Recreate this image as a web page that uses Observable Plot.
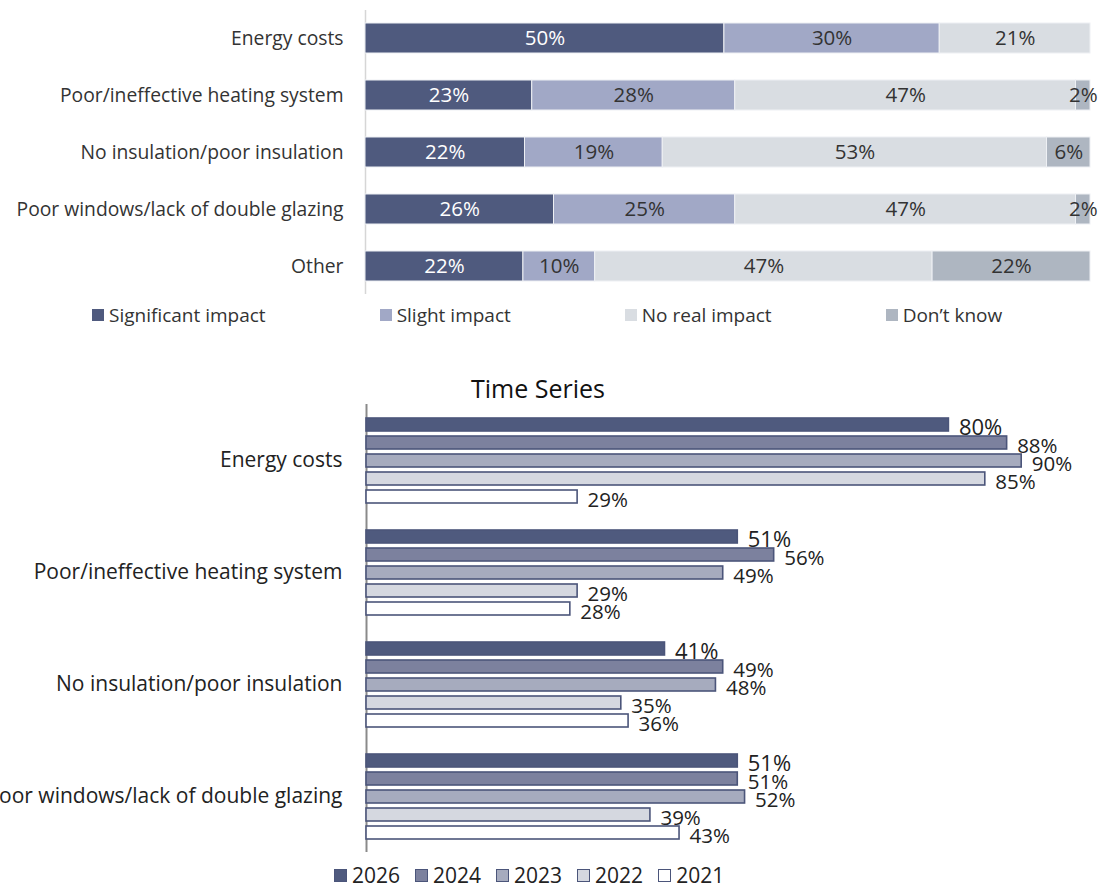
<!DOCTYPE html>
<html><head><meta charset="utf-8">
<script src="https://cdn.jsdelivr.net/npm/d3@7"></script>
<script src="https://cdn.jsdelivr.net/npm/@observablehq/plot@0.6"></script>
<style>
body{margin:0;width:1100px;height:884px;overflow:hidden;background:#fff;font-family:"Open Sans",sans-serif;position:relative;color:#222}
.abs{position:absolute}
svg{overflow:visible}
.leg{position:absolute;display:flex;align-items:center;white-space:nowrap;line-height:1.1}
.item{display:flex;align-items:center}
.sw{display:inline-block;box-sizing:border-box}
</style></head><body>
<div id="top" class="abs" style="left:0;top:0"></div>
<div id="legend1" class="leg" style="left:92px;top:305px;gap:114px;font-size:19px;color:#333"></div>
<div id="title" class="abs" style="left:0;width:1076px;text-align:center;top:371px;font-size:25px;color:#111">Time Series</div>
<div id="bottom" class="abs" style="left:0;top:393px"></div>
<div id="legend2" class="leg" style="left:334px;top:864px;gap:15px;font-size:21px;color:#222"></div>
<script>
// ---- Top chart data ----
const impactCategories = ["Energy costs","Poor/ineffective heating system","No insulation/poor insulation","Poor windows/lack of double glazing","Other"];
const impactTypes = ["Significant impact","Slight impact","No real impact","Don’t know"];
const significant = [50,23,22,26,22];
const slight      = [30,28,19,25,10];
const noReal      = [21,47,53,47,47];
const dontKnow    = [0,2,6,2,22];
const impactColors = ["#4f5a7e","#a1a8c6","#d9dde2","#aeb6c1"];

// ---- Time series data ----
const tsCategories = ["Energy costs","Poor/ineffective heating system","No insulation/poor insulation","Poor windows/lack of double glazing"];
const years = ["2026","2024","2023","2022","2021"];
const y2026 = [80,51,41,51];
const y2024 = [88,56,49,51];
const y2023 = [90,49,48,52];
const y2022 = [85,29,35,39];
const y2021 = [29,28,36,43];
const yearColors = ["#4f5a7e","#7c819e","#a6abbe","#d5d8e0","#ffffff"];

const impactSeries = [significant, slight, noReal, dontKnow];
const topData = impactCategories.flatMap((c,i)=>impactTypes.map((t,j)=>({cat:c,type:t,value:impactSeries[j][i]})));

const stackOpts = {offset:"normalize", order: impactTypes, x:"value", y:"cat", z:"type"};
const topPlot = Plot.plot({
  width:1100, height:300, marginLeft:365, marginRight:10, marginTop:10, marginBottom:6,
  style:{fontFamily:"Open Sans", fontSize:"19.3px", color:"#333", background:"transparent", overflow:"visible"},
  x:{axis:null, domain:[0,1]},
  y:{domain:impactCategories, paddingInner:0.478, paddingOuter:0.2, tickSize:0, tickPadding:22, label:null},
  color:{domain:impactTypes, range:impactColors},
  marks:[
    Plot.ruleX([0],{stroke:"#d6d6d6", strokeWidth:1.5}),
    Plot.barX(topData, Plot.stackX({...stackOpts, fill:"type", stroke:"#eef0f4", strokeWidth:1})),
    Plot.text(topData, Plot.stackX({...stackOpts, text:d=>d.value>0 && d.type==="Significant impact" ? d.value+"%" : "", fill:"white", fontSize:20.5})),
    Plot.text(topData, Plot.stackX({...stackOpts, text:d=>d.value>0 && d.type!=="Significant impact" ? d.value+"%" : "", fill:"#333", fontSize:20.5}))
  ]
});
document.getElementById("top").append(topPlot);

const leg1 = document.getElementById("legend1");
impactTypes.forEach((t,i)=>{
  const it = document.createElement("span"); it.className="item";
  it.innerHTML = `<span class="sw" style="width:12px;height:12px;background:${impactColors[i]};margin-right:5px"></span>${t}`;
  leg1.append(it);
});

// ---- Bottom chart ----
const yearSeries = [y2026,y2024,y2023,y2022,y2021];
const tsData = tsCategories.flatMap((c,i)=>years.map((yr,j)=>({cat:c, year:yr, value:yearSeries[j][i]})));

const bottomPlot = Plot.plot({
  width:1100, height:464, marginLeft:366, marginRight:6, marginTop:9, marginBottom:4,
  style:{fontFamily:"Open Sans", fontSize:"21px", color:"#222", background:"transparent", overflow:"visible"},
  facet:{data:tsData, y:"cat"},
  fy:{domain:tsCategories, padding:0, axis:"left", tickSize:0, tickPadding:24, label:null},
  y:{domain:years, paddingInner:0.28, paddingOuter:0.66, axis:null},
  x:{domain:[0,100], axis:null},
  color:{domain:years, range:yearColors},
  marks:[
    Plot.ruleX([0],{stroke:"#8a8a8a", strokeWidth:2}),
    Plot.barX(tsData,{x:"value", y:"year", fill:"year", stroke:"#4b557a", strokeWidth:1.6}),
    Plot.text(tsData,{x:"value", y:"year", text:d=>d.value+"%", dx:10, dy:3, textAnchor:"start", fill:"#222",
      fontSize:d=>d.year==="2026"?22:20.5})
  ]
});
document.getElementById("bottom").append(bottomPlot);

const leg2 = document.getElementById("legend2");
years.forEach((yr,i)=>{
  const it = document.createElement("span"); it.className="item";
  it.innerHTML = `<span class="sw" style="width:13px;height:13px;background:${yearColors[i]};border:1.5px solid #4b557a;margin-right:5px"></span>${yr}`;
  leg2.append(it);
});
</script>
</body></html>
